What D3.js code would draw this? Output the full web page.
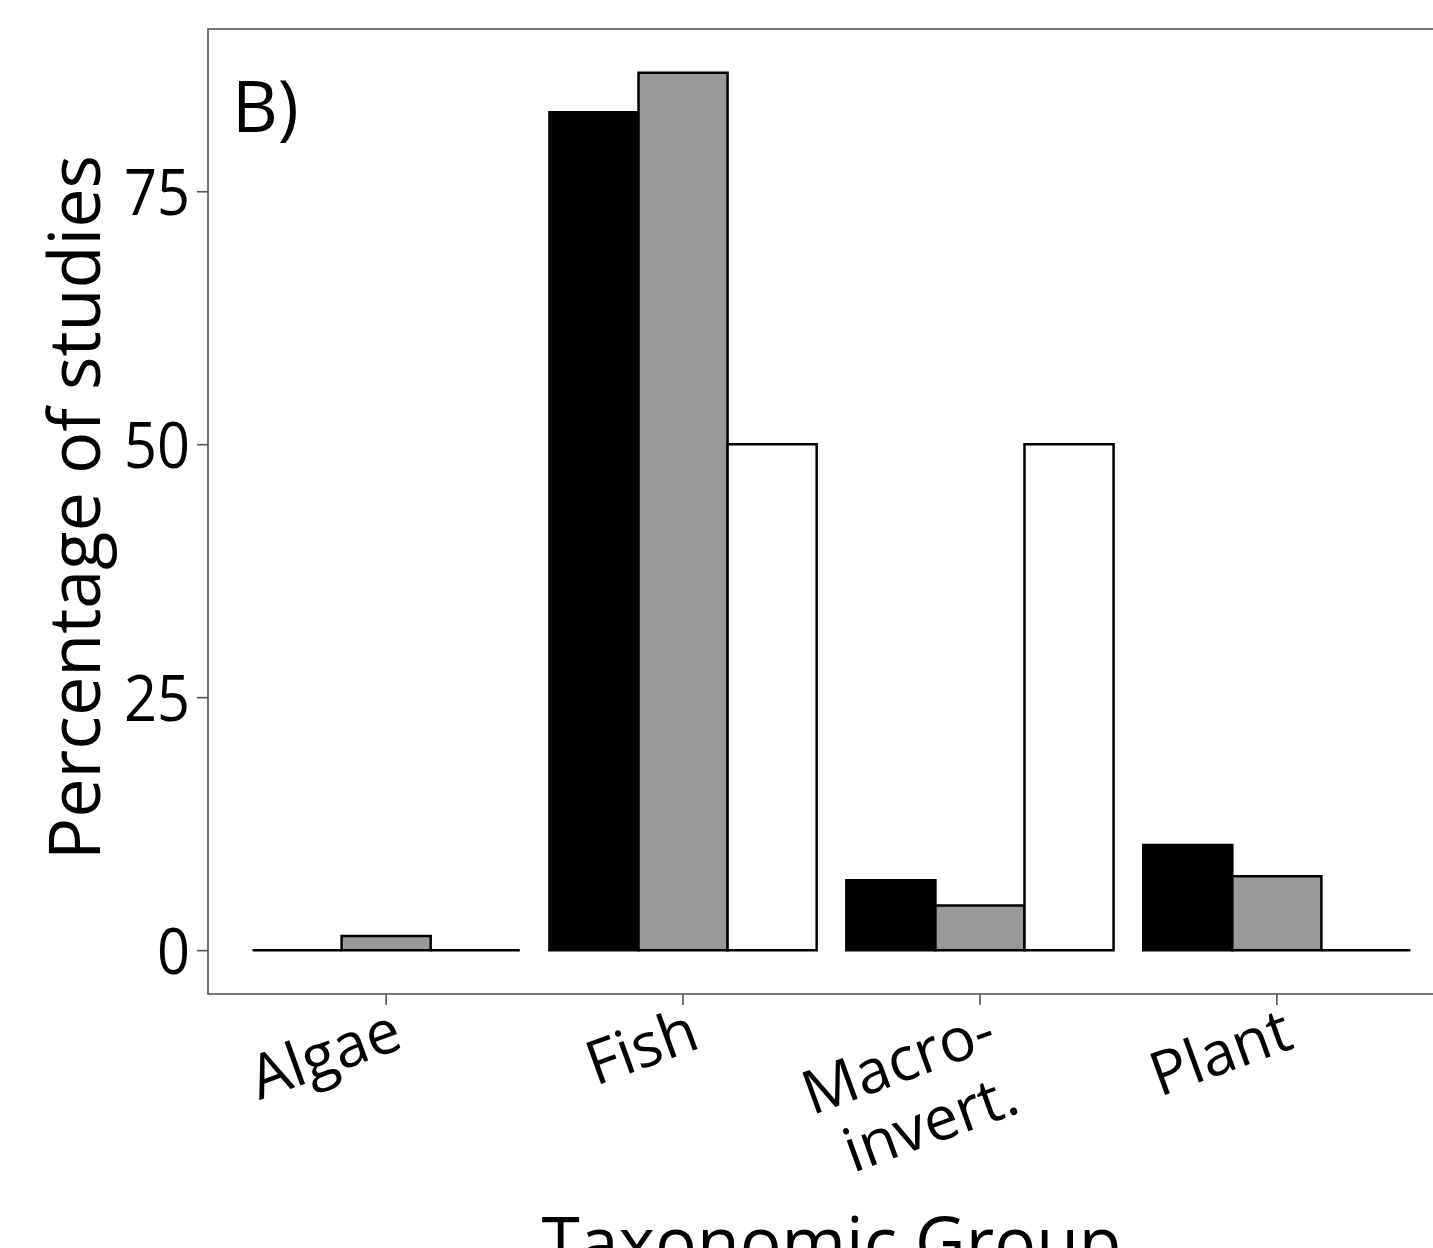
<!DOCTYPE html>
<html>
<head>
<meta charset="utf-8">
<script src="https://cdn.jsdelivr.net/npm/d3@7"></script>
<style>
  body { margin: 0; background: #fff; }
  text { font-family: "Open Sans", "Noto Sans", sans-serif; fill: #000; }
</style>
</head>
<body>
<div id="chart"></div>
<script>
// taxonomic groups on the x axis
const groups = ["Algae", "Fish", "Macro-\ninvert.", "Plant"];
// three study series (black, grey, white fills), percentages per group
const seriesBlack = [0, 82.8, 6.9, 10.4];
const seriesGrey = [1.4, 86.7, 4.4, 7.3];
const seriesWhite = [0, 50, 50, 0];
const seriesKeys = ["black", "grey", "white"];
const yTicks = [0, 25, 50, 75];

const W = 1433, H = 1248;
const panel = {left: 208, right: 1455, top: 29, bottom: 994};

const svg = d3.select("#chart").append("svg")
    .attr("width", W)
    .attr("height", H);

const yMax = d3.max([...seriesBlack, ...seriesGrey, ...seriesWhite]);
const pad = yMax * 0.05;
const y = d3.scaleLinear()
    .domain([-pad, yMax + pad])
    .range([panel.bottom, panel.top]);

const x = d3.scaleBand()
    .domain(groups)
    .range([panel.left, panel.right])
    .paddingInner(0.1)
    .paddingOuter(0.15);

const xSub = d3.scaleBand()
    .domain(seriesKeys)
    .range([0, x.bandwidth()]);

const fills = {black: "#000000", grey: "#999999", white: "#ffffff"};

const rows = [];
groups.forEach((g, i) => {
  rows.push({group: g, key: "black", value: seriesBlack[i]});
  rows.push({group: g, key: "grey", value: seriesGrey[i]});
  rows.push({group: g, key: "white", value: seriesWhite[i]});
});

// bars drawn as paths so zero-height bars still show their outline
svg.selectAll(".bar")
    .data(rows)
  .enter().append("path")
    .attr("class", "bar")
    .attr("d", d => {
      const x0 = x(d.group) + xSub(d.key);
      const x1 = x0 + xSub.bandwidth();
      return `M${x0},${y(0)}V${y(d.value)}H${x1}V${y(0)}Z`;
    })
    .attr("fill", d => fills[d.key])
    .attr("stroke", "#000")
    .attr("stroke-width", 2.5)
    .attr("stroke-linejoin", "miter");

// panel border
svg.append("rect")
    .attr("x", panel.left)
    .attr("y", panel.top)
    .attr("width", panel.right - panel.left)
    .attr("height", panel.bottom - panel.top)
    .attr("fill", "none")
    .attr("stroke", "#555")
    .attr("stroke-width", 1.6);

// y axis
const yAxis = svg.append("g")
    .attr("transform", `translate(${panel.left},0)`)
    .call(d3.axisLeft(y).tickValues(yTicks).tickSize(11).tickPadding(7));
yAxis.select(".domain").remove();
yAxis.selectAll(".tick line").attr("stroke", "#555").attr("stroke-width", 1.6);
yAxis.selectAll(".tick text")
    .attr("font-size", 64)
    .attr("font-family", "Open Sans, sans-serif")
    .attr("fill", "#000")
    .attr("dy", "0.36em")
    .attr("textLength", d => String(d).length * 33)
    .attr("lengthAdjust", "spacingAndGlyphs");

// x axis
const xAxis = svg.append("g")
    .attr("transform", `translate(0,${panel.bottom})`)
    .call(d3.axisBottom(x).tickSize(11).tickFormat(""));
xAxis.select(".domain").remove();
xAxis.selectAll(".tick line").attr("stroke", "#555").attr("stroke-width", 1.6);

// rotated x tick labels, right-aligned, top anchored near the tick
const xl = svg.append("g").selectAll(".xlab")
    .data(groups)
  .enter().append("text")
    .attr("class", "xlab")
    .attr("font-size", 61)
    .attr("text-anchor", "end")
    .attr("transform", d => `translate(${x(d) + x.bandwidth() / 2 + 4},${panel.bottom + 12}) rotate(-20)`);
xl.each(function(d) {
  const lines = d.split("\n");
  const t = d3.select(this);
  lines.forEach((ln, i) => {
    t.append("tspan")
      .attr("x", 0)
      .attr("y", 0)
      .attr("dy", (0.72 + i * 1.12) + "em")
      .text(ln);
  });
});

// axis titles
svg.append("text")
    .attr("font-size", 72)
    .attr("text-anchor", "middle")
    .attr("transform", `translate(100,${(panel.top + panel.bottom) / 2 - 4}) rotate(-90)`)
    .attr("textLength", 705)
    .attr("lengthAdjust", "spacingAndGlyphs")
    .text("Percentage of studies");

svg.append("text")
    .attr("font-size", 72)
    .attr("text-anchor", "middle")
    .attr("x", (panel.left + panel.right) / 2)
    .attr("y", 1268)
    .attr("textLength", 580)
    .attr("lengthAdjust", "spacingAndGlyphs")
    .text("Taxonomic Group");

// panel tag
svg.append("text")
    .attr("font-size", 71)
    .attr("x", 232)
    .attr("y", 132)
    .text("B)");
</script>
</body>
</html>
